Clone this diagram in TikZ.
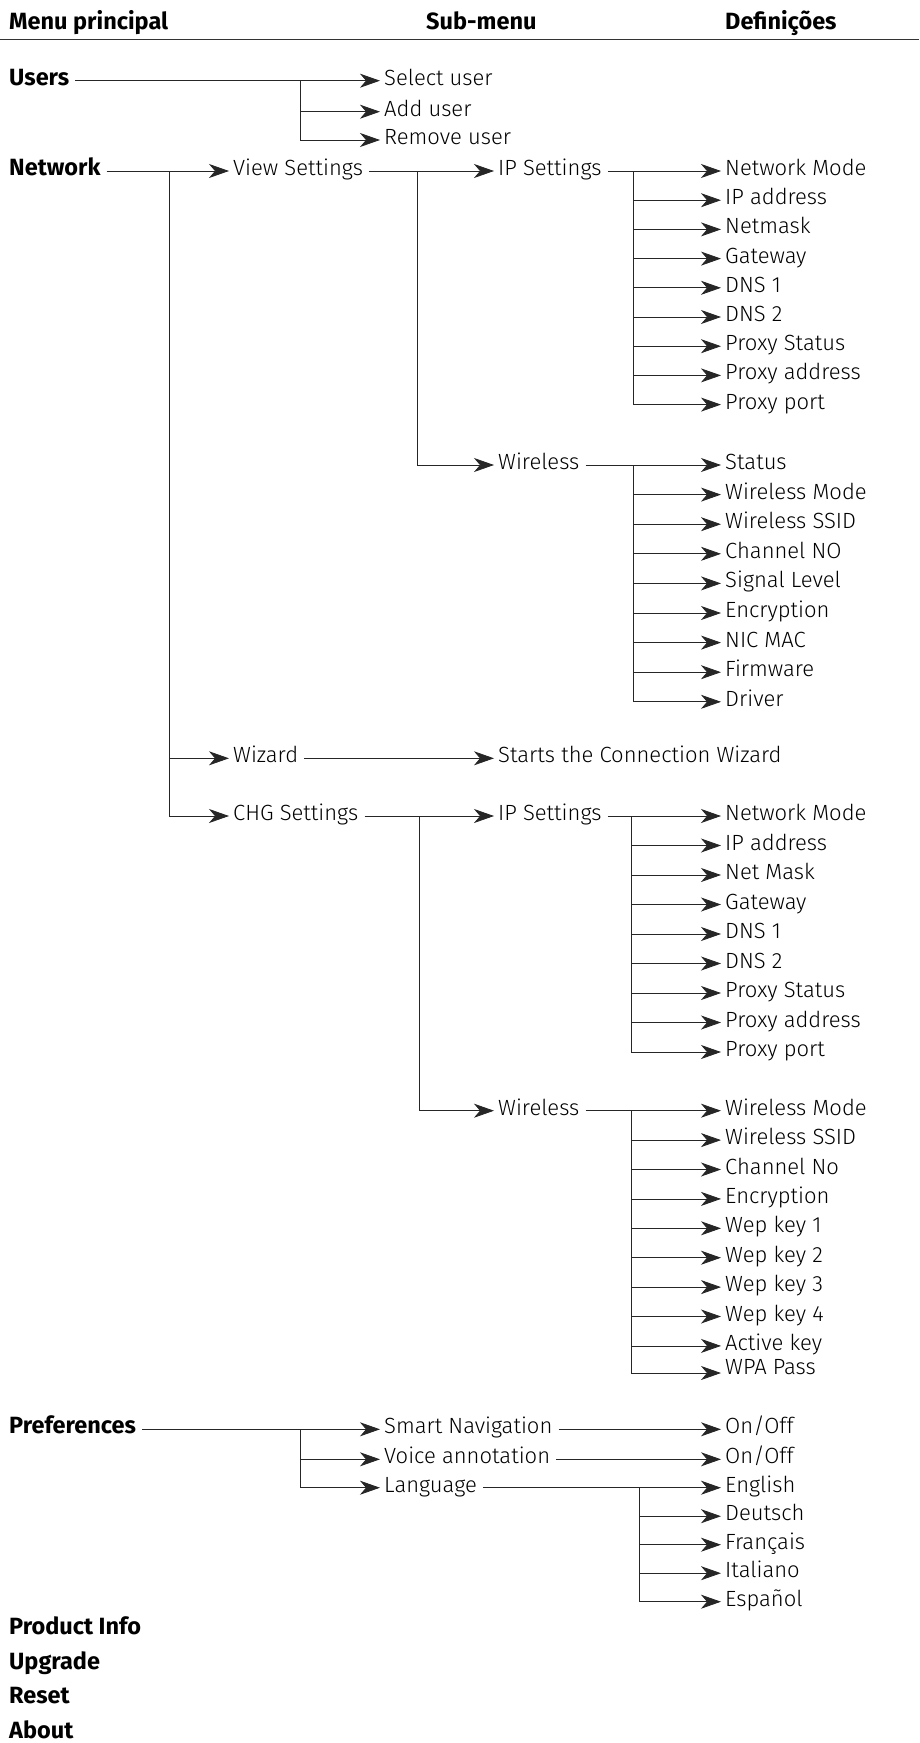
\documentclass[tikz,border=0pt]{standalone}
\usepackage{fontspec}
\setmainfont{Fira Sans}[UprightFont=* Light,BoldFont=* Bold]
\usepackage{tikz}
\usetikzlibrary{arrows.meta}

\begin{document}
\begin{tikzpicture}[x=1pt,y=-1pt,
  item/.style={anchor=west,inner sep=2pt,text height=15pt,text depth=6pt,font=\fontsize{22}{26}\selectfont},
  menu/.style={item,font=\fontsize{23.5}{26}\selectfont\bfseries},
  lnk/.style={draw=black!85,line width=0.8pt},
  arr/.style={lnk,-{Stealth[length=20pt,width=14pt,inset=6pt]},shorten >=2pt},
  outarr/.style={arr,shorten <=4pt}]
\useasboundingbox (0,0) rectangle (919,1743);
\node[menu] (hmain) at (7,25) {Menu principal};
\node[menu] (hsub) at (424,25) {Sub-menu};
\node[menu] (hdef) at (723,25) {Definições};
\draw[line width=1.2pt,black!80] (0,39.5) -- (919,39.5);

\node[menu] (usr) at (7,80.7) {Users};
\node[item] (sel) at (382,80.7) {Select user};
\node[item] (addu) at (382,111.7) {Add user};
\node[item] (remu) at (382,140) {Remove user};
\coordinate (jusr) at (300,80.7);
\draw[outarr] (usr.east) -- (sel.west);
\draw[arr] (jusr) |- (remu.west);
\draw[arr] (jusr |- addu.west) -- (addu.west);

\node[menu] (net) at (7,171) {Network};
\node[item] (view) at (231,171) {View Settings};
\node[item] (wiz) at (231,758.3) {Wizard};
\node[item] (chg) at (231,816) {CHG Settings};
\coordinate (jnet) at (169,171);
\draw[outarr] (net.east) -- (view.west);
\draw[arr] (jnet) |- (chg.west);
\draw[arr] (jnet |- wiz.west) -- (wiz.west);

\node[item] (ipa) at (496,171) {IP Settings};
\node[item] (wla) at (496,465) {Wireless};
\coordinate (jview) at (417,171);
\draw[outarr] (view.east) -- (ipa.west);
\draw[arr] (jview) |- (wla.west);

\node[item] (ipa1) at (723,171) {Network Mode};
\node[item] (ipa2) at (723,200.2) {IP address};
\node[item] (ipa3) at (723,229.4) {Netmask};
\node[item] (ipa4) at (723,258.6) {Gateway};
\node[item] (ipa5) at (723,287.8) {DNS 1};
\node[item] (ipa6) at (723,317) {DNS 2};
\node[item] (ipa7) at (723,346.2) {Proxy Status};
\node[item] (ipa8) at (723,375.4) {Proxy address};
\node[item] (ipa9) at (723,404.6) {Proxy port};
\coordinate (jipa) at (633,171);
\draw[outarr] (ipa.east) -- (ipa1.west);
\draw[arr] (jipa) |- (ipa9.west);
\draw[arr] (jipa |- ipa2.west) -- (ipa2.west);
\draw[arr] (jipa |- ipa3.west) -- (ipa3.west);
\draw[arr] (jipa |- ipa4.west) -- (ipa4.west);
\draw[arr] (jipa |- ipa5.west) -- (ipa5.west);
\draw[arr] (jipa |- ipa6.west) -- (ipa6.west);
\draw[arr] (jipa |- ipa7.west) -- (ipa7.west);
\draw[arr] (jipa |- ipa8.west) -- (ipa8.west);

\node[item] (wla1) at (723,465) {Status};
\node[item] (wla2) at (723,494.6) {Wireless Mode};
\node[item] (wla3) at (723,524.2) {Wireless SSID};
\node[item] (wla4) at (723,553.8) {Channel NO};
\node[item] (wla5) at (723,583.4) {Signal Level};
\node[item] (wla6) at (723,613) {Encryption};
\node[item] (wla7) at (723,642.6) {NIC MAC};
\node[item] (wla8) at (723,672.2) {Firmware};
\node[item] (wla9) at (723,701.8) {Driver};
\coordinate (jwla) at (633,465);
\draw[outarr] (wla.east) -- (wla1.west);
\draw[arr] (jwla) |- (wla9.west);
\draw[arr] (jwla |- wla2.west) -- (wla2.west);
\draw[arr] (jwla |- wla3.west) -- (wla3.west);
\draw[arr] (jwla |- wla4.west) -- (wla4.west);
\draw[arr] (jwla |- wla5.west) -- (wla5.west);
\draw[arr] (jwla |- wla6.west) -- (wla6.west);
\draw[arr] (jwla |- wla7.west) -- (wla7.west);
\draw[arr] (jwla |- wla8.west) -- (wla8.west);

\node[item] (start) at (496,758.3) {Starts the Connection Wizard};
\draw[outarr] (wiz.east) -- (start.west);

\node[item] (ipb) at (496,816) {IP Settings};
\node[item] (wlb) at (496,1110.7) {Wireless};
\coordinate (jchg) at (419,816);
\draw[outarr] (chg.east) -- (ipb.west);
\draw[arr] (jchg) |- (wlb.west);

\node[item] (ipb1) at (723,816) {Network Mode};
\node[item] (ipb2) at (723,845.5) {IP address};
\node[item] (ipb3) at (723,875) {Net Mask};
\node[item] (ipb4) at (723,904.5) {Gateway};
\node[item] (ipb5) at (723,934) {DNS 1};
\node[item] (ipb6) at (723,963.5) {DNS 2};
\node[item] (ipb7) at (723,993) {Proxy Status};
\node[item] (ipb8) at (723,1022.5) {Proxy address};
\node[item] (ipb9) at (723,1052) {Proxy port};
\coordinate (jipb) at (631,816);
\draw[outarr] (ipb.east) -- (ipb1.west);
\draw[arr] (jipb) |- (ipb9.west);
\draw[arr] (jipb |- ipb2.west) -- (ipb2.west);
\draw[arr] (jipb |- ipb3.west) -- (ipb3.west);
\draw[arr] (jipb |- ipb4.west) -- (ipb4.west);
\draw[arr] (jipb |- ipb5.west) -- (ipb5.west);
\draw[arr] (jipb |- ipb6.west) -- (ipb6.west);
\draw[arr] (jipb |- ipb7.west) -- (ipb7.west);
\draw[arr] (jipb |- ipb8.west) -- (ipb8.west);

\node[item] (wlb1) at (723,1110.7) {Wireless Mode};
\node[item] (wlb2) at (723,1140.1) {Wireless SSID};
\node[item] (wlb3) at (723,1169.5) {Channel No};
\node[item] (wlb4) at (723,1198.9) {Encryption};
\node[item] (wlb5) at (723,1228.3) {Wep key 1};
\node[item] (wlb6) at (723,1257.7) {Wep key 2};
\node[item] (wlb7) at (723,1287.1) {Wep key 3};
\node[item] (wlb8) at (723,1316.5) {Wep key 4};
\node[item] (wlb9) at (723,1345.9) {Active key};
\node[item] (wlb10) at (723,1370) {WPA Pass};
\coordinate (jwlb) at (631,1110.7);
\draw[outarr] (wlb.east) -- (wlb1.west);
\draw[arr] (jwlb) |- ([yshift=-3pt]wlb10.west);
\draw[arr] (jwlb |- wlb2.west) -- (wlb2.west);
\draw[arr] (jwlb |- wlb3.west) -- (wlb3.west);
\draw[arr] (jwlb |- wlb4.west) -- (wlb4.west);
\draw[arr] (jwlb |- wlb5.west) -- (wlb5.west);
\draw[arr] (jwlb |- wlb6.west) -- (wlb6.west);
\draw[arr] (jwlb |- wlb7.west) -- (wlb7.west);
\draw[arr] (jwlb |- wlb8.west) -- (wlb8.west);
\draw[arr] (jwlb |- wlb9.west) -- (wlb9.west);

\node[menu] (pref) at (7,1429.3) {Preferences};
\node[item] (smart) at (382,1429.3) {Smart Navigation};
\node[item] (voice) at (382,1459.3) {Voice annotation};
\node[item] (lang) at (382,1487.7) {Language};
\coordinate (jpref) at (300,1429.3);
\draw[outarr] (pref.east) -- (smart.west);
\draw[arr] (jpref) |- (lang.west);
\draw[arr] (jpref |- voice.west) -- (voice.west);

\node[item] (on1) at (723,1429.3) {On/Off};
\node[item] (on2) at (723,1459.3) {On/Off};
\draw[outarr] (smart.east) -- (on1.west);
\draw[outarr] (voice.east) -- (on2.west);

\node[item] (en) at (723,1487.7) {English};
\node[item] (de) at (723,1516.2) {Deutsch};
\node[item] (fr) at (723,1544.7) {Français};
\node[item] (it) at (723,1573.2) {Italiano};
\node[item] (es) at (723,1601.7) {Español};
\coordinate (jlang) at (639,1487.7);
\draw[outarr] (lang.east) -- (en.west);
\draw[arr] (jlang) |- (es.west);
\draw[arr] (jlang |- de.west) -- (de.west);
\draw[arr] (jlang |- fr.west) -- (fr.west);
\draw[arr] (jlang |- it.west) -- (it.west);

\node[menu] (pinfo) at (7,1630) {Product Info};
\node[menu] (upg) at (7,1665) {Upgrade};
\node[menu] (rst) at (7,1699.3) {Reset};
\node[menu] (abt) at (7,1734.3) {About};
\end{tikzpicture}
\end{document}
